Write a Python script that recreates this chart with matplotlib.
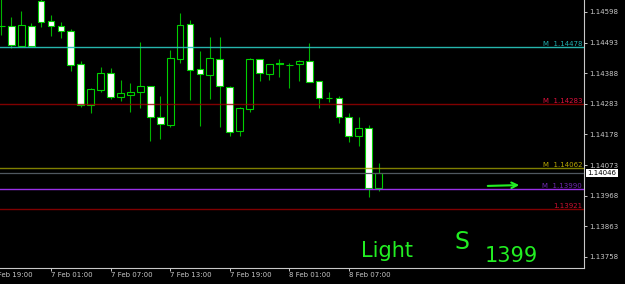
import numpy as np
import matplotlib
matplotlib.use('Agg')
import matplotlib.pyplot as plt

# EURUSD H1 candles, 6 Feb 20:00 .. 8 Feb 10:00
opens = [1.14550, 1.14551, 1.14482, 1.14549, 1.14636, 1.14568, 1.14549, 1.14534,
         1.14419, 1.14279, 1.14330, 1.14389, 1.14308, 1.14314, 1.14325, 1.14343,
         1.14238, 1.14210, 1.14436, 1.14556, 1.14401, 1.14383, 1.14436, 1.14342,
         1.14189, 1.14266, 1.14436, 1.14386, 1.14424, 1.14415, 1.14419, 1.14429,
         1.14360, 1.14302, 1.14303, 1.14239, 1.14172, 1.14199, 1.13993]
highs = [1.14673, 1.14582, 1.14601, 1.14559, 1.14645, 1.14588, 1.14563, 1.14540,
         1.14430, 1.14338, 1.14409, 1.14406, 1.14365, 1.14355, 1.14496, 1.14344,
         1.14310, 1.14468, 1.14593, 1.14571, 1.14464, 1.14513, 1.14512, 1.14344,
         1.14272, 1.14441, 1.14436, 1.14419, 1.14436, 1.14422, 1.14432, 1.14491,
         1.14362, 1.14325, 1.14310, 1.14253, 1.14239, 1.14210, 1.14081]
lows = [1.14519, 1.14476, 1.14481, 1.14480, 1.14545, 1.14517, 1.14508, 1.14397,
        1.14273, 1.14251, 1.14325, 1.14301, 1.14293, 1.14256, 1.14268, 1.14156,
        1.14163, 1.14205, 1.14424, 1.14296, 1.14207, 1.14300, 1.14205, 1.14174,
        1.14174, 1.14256, 1.14362, 1.14365, 1.14376, 1.14336, 1.14362, 1.14359,
        1.14270, 1.14290, 1.14218, 1.14152, 1.14138, 1.13965, 1.13984]
closes = [1.14550, 1.14485, 1.14553, 1.14480, 1.14564, 1.14549, 1.14532, 1.14416,
          1.14280, 1.14333, 1.14389, 1.14308, 1.14319, 1.14324, 1.14343, 1.14237,
          1.14213, 1.14439, 1.14553, 1.14399, 1.14384, 1.14439, 1.14344, 1.14187,
          1.14268, 1.14436, 1.14389, 1.14419, 1.14419, 1.14415, 1.14429, 1.14359,
          1.14302, 1.14302, 1.14239, 1.14173, 1.14201, 1.13993, 1.14046]

# horizontal levels drawn on the chart
levels = [1.14478, 1.14283, 1.14062, 1.13990, 1.13921]
level_labels = ['M  1.14478', 'M  1.14283', 'M  1.14062', 'M  1.13990', '1.13921']
line_colors = ['#28c0b8', '#a00000', '#a0a000', '#9a30e8', '#a00000']
line_alpha = [0.95, 0.8, 0.8, 1.0, 0.8]
label_colors = ['#20b0b0', '#e0103c', '#b8a800', '#7028b0', '#d01030']
bid = 1.14046

price_ticks = [1.14598, 1.14493, 1.14388, 1.14283, 1.14178, 1.14073,
               1.13968, 1.13863, 1.13758]
time_pos = [-1, 5, 11, 17, 23, 29, 35]
time_labels = ['6 Feb 19:00', '7 Feb 01:00', '7 Feb 07:00', '7 Feb 13:00',
               '7 Feb 19:00', '8 Feb 01:00', '8 Feb 07:00']

W, H = 625, 284
fig = plt.figure(figsize=(W / 100, H / 100), dpi=100, facecolor='black')
ax = fig.add_axes([0, 1 - 268 / H, 584 / W, 268 / H])
ax.set_facecolor('black')

x = np.arange(len(opens))
o = np.array(opens)
c = np.array(closes)
bear = c < o

# wicks
ax.vlines(x, lows, highs, color='#00b400', lw=0.8, zorder=2)
# bodies: bear = white, bull = hollow
ax.bar(x, np.abs(c - o), bottom=np.minimum(o, c), width=0.68,
       color=np.where(bear, 'white', 'black'), edgecolor='#00d000',
       linewidth=0.8, zorder=3)

for lev, lab, lc, a, tc in zip(levels, level_labels, line_colors, line_alpha,
                               label_colors):
    ax.axhline(lev, color=lc, lw=1.0, alpha=a, zorder=4)
    ax.text(0.9966, lev, lab, transform=ax.get_yaxis_transform(),
            ha='right', va='bottom', fontsize=5, color=tc, zorder=5)
ax.axhline(bid, color='#505860', lw=0.9, zorder=4)

ax.set_xlim(-0.136, 58.68)
ax.set_ylim(1.137201, 1.146391)

# price axis on the right
ax.yaxis.tick_right()
ax.set_yticks(price_ticks)
ax.set_yticklabels(['%.5f' % p for p in price_ticks])
ax.tick_params(axis='y', colors='#c8c8c8', length=2.5, width=0.7,
               labelsize=5, pad=1.5)
ax.set_xticks([p for p in time_pos if p >= 0])
ax.set_xticklabels([])
ax.tick_params(axis='x', colors='#c8c8c8', length=2, width=0.7)
# the first label is cut by the left edge, as in the terminal
for p, lab in zip(time_pos, time_labels):
    ax.text(p, -0.015, lab, transform=ax.get_xaxis_transform(), ha='left',
            va='top', fontsize=5, color='#c8c8c8', clip_on=False)

for s in ['left', 'top']:
    ax.spines[s].set_visible(False)
for s in ['right', 'bottom']:
    ax.spines[s].set_color('#c8c8c8')
    ax.spines[s].set_linewidth(0.8)

# current bid label
ax.text(1.006, bid, '%.5f' % bid, transform=ax.get_yaxis_transform(),
        ha='left', va='center', fontsize=5, color='black', clip_on=False,
        bbox=dict(boxstyle='square,pad=0.15', facecolor='white', edgecolor='none'))

# handwritten notes
green = '#22ee22'
ax.annotate('', xy=(522 / 584, 1 - 185 / 268), xytext=(485 / 584, 1 - 186 / 268),
            xycoords='axes fraction',
            arrowprops=dict(arrowstyle='->', color=green, lw=1.5))
ax.text(361 / 584, 1 - 257 / 268, 'Light', transform=ax.transAxes,
        fontsize=15, color=green, va='baseline', ha='left')
ax.text(455 / 584, 1 - 249 / 268, 'S', transform=ax.transAxes,
        fontsize=17, color=green, va='baseline', ha='left')
ax.text(485 / 584, 1 - 262 / 268, '1399', transform=ax.transAxes,
        fontsize=15, color=green, va='baseline', ha='left')

fig.savefig('out.png', dpi=100, facecolor='black')
